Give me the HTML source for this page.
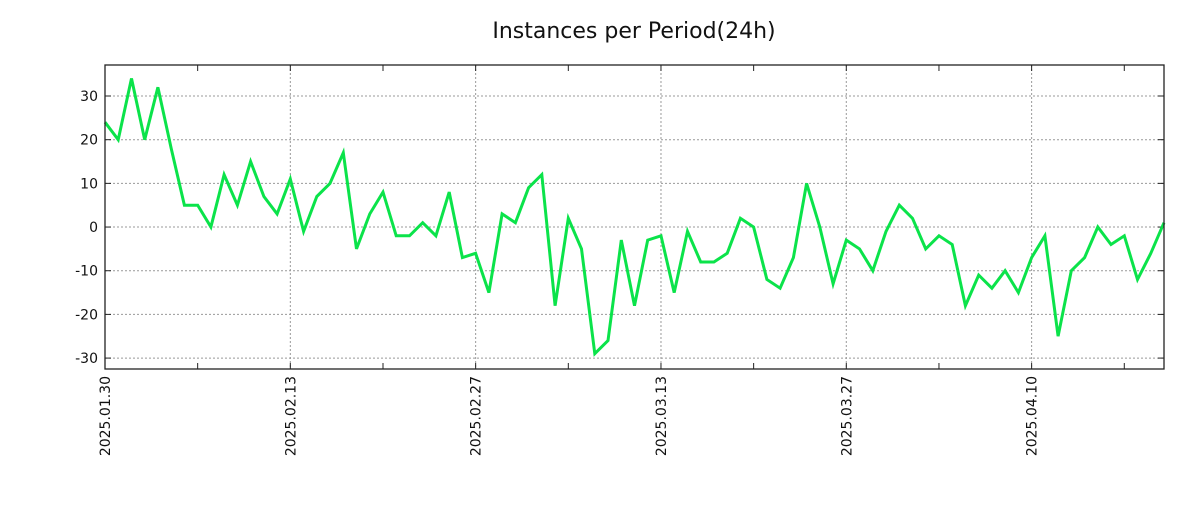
<!DOCTYPE html>
<html><head><meta charset="utf-8"><style>
body{margin:0;background:#fff;width:1200px;height:500px;overflow:hidden}
svg{font-family:"DejaVu Sans","Liberation Sans",sans-serif}
</style></head><body>
<svg id="chart" width="1200" height="500">
<text x="634" y="38" font-size="22" text-anchor="middle" fill="#111">Instances per Period(24h)</text>
<g id="grid"></g>
<g id="axes"></g>
<path id="line" fill="none" stroke="#0be34a" stroke-width="3" stroke-linejoin="miter"></path>
<rect x="105" y="65" width="1059" height="304" fill="none" stroke="#222" stroke-width="1.3"></rect>
</svg>
<script>
const values=[24,20,34,20,32,18,5,5,0,12,5,15,7,3,11,-1,7,10,17,-5,3,8,-2,-2,1,-2,8,-7,-6,-15,3,1,9,12,-18,2,-5,-29,-26,-3,-18,-3,-2,-15,-1,-8,-8,-6,2,0,-12,-14,-7,10,0,-13,-3,-5,-10,-1,5,2,-5,-2,-4,-18,-11,-14,-10,-15,-7,-2,-25,-10,-7,0,-4,-2,-12,-6,1];
const yTicks=[-30,-20,-10,0,10,20,30];
const xTickLabels=["2025.01.30","2025.02.13","2025.02.27","2025.03.13","2025.03.27","2025.04.10"];
const xTickDays=[0,14,28,42,56,70];
const X0=105,X1=1164,Y0=65,Y1=369,yMin=-32.5,yMax=37.1,nDays=80;
const sx=d=>X0+(X1-X0)*d/nDays;
const sy=v=>Y1-(Y1-Y0)*(v-yMin)/(yMax-yMin);
const NS="http://www.w3.org/2000/svg";
const grid=document.getElementById('grid'),axes=document.getElementById('axes');
function mk(tag,attrs,parent){const e=document.createElementNS(NS,tag);for(const k in attrs)e.setAttribute(k,attrs[k]);parent.appendChild(e);return e;}
yTicks.forEach(v=>{const y=sy(v);
 const g=mk('line',{x1:X0,x2:X1,y1:y,y2:y,stroke:'#999','stroke-dasharray':'2,2'},grid);
 
 
 const t1=mk('line',{x1:X0,x2:X0+6,y1:y,y2:y,stroke:'#222'},axes);
 
 
 const t2=mk('line',{x1:X1-6,x2:X1,y1:y,y2:y,stroke:'#222'},axes);
 
 
 const tx=mk('text',{x:X0-7,y:y+5,'font-size':14,'text-anchor':'end',fill:'#111'},axes);
 tx.textContent=v;
 
 
});
for(let d=0;d<=nDays;d+=7){const x=sx(d);
 const a=mk('line',{x1:x,x2:x,y1:Y1,y2:Y1-6,stroke:'#222'},axes);
 
 
 const b=mk('line',{x1:x,x2:x,y1:Y0,y2:Y0+6,stroke:'#222'},axes);
 
 
}
xTickDays.forEach((d,i)=>{const x=sx(d);
 const g=mk('line',{x1:x,x2:x,y1:Y0,y2:Y1,stroke:'#999','stroke-dasharray':'2,2'},grid);
 
 
 const t=mk('text',{x:0,y:0,'font-size':14,'text-anchor':'end',fill:'#111',transform:`translate(${x+5},${Y1+7}) rotate(-90)`},axes);
 t.textContent=xTickLabels[i];
 
 
});
document.getElementById('line').setAttribute('d',values.map((v,i)=>(i?'L':'M')+sx(i).toFixed(1)+','+sy(v).toFixed(1)).join(''));
</script>
</body></html>
